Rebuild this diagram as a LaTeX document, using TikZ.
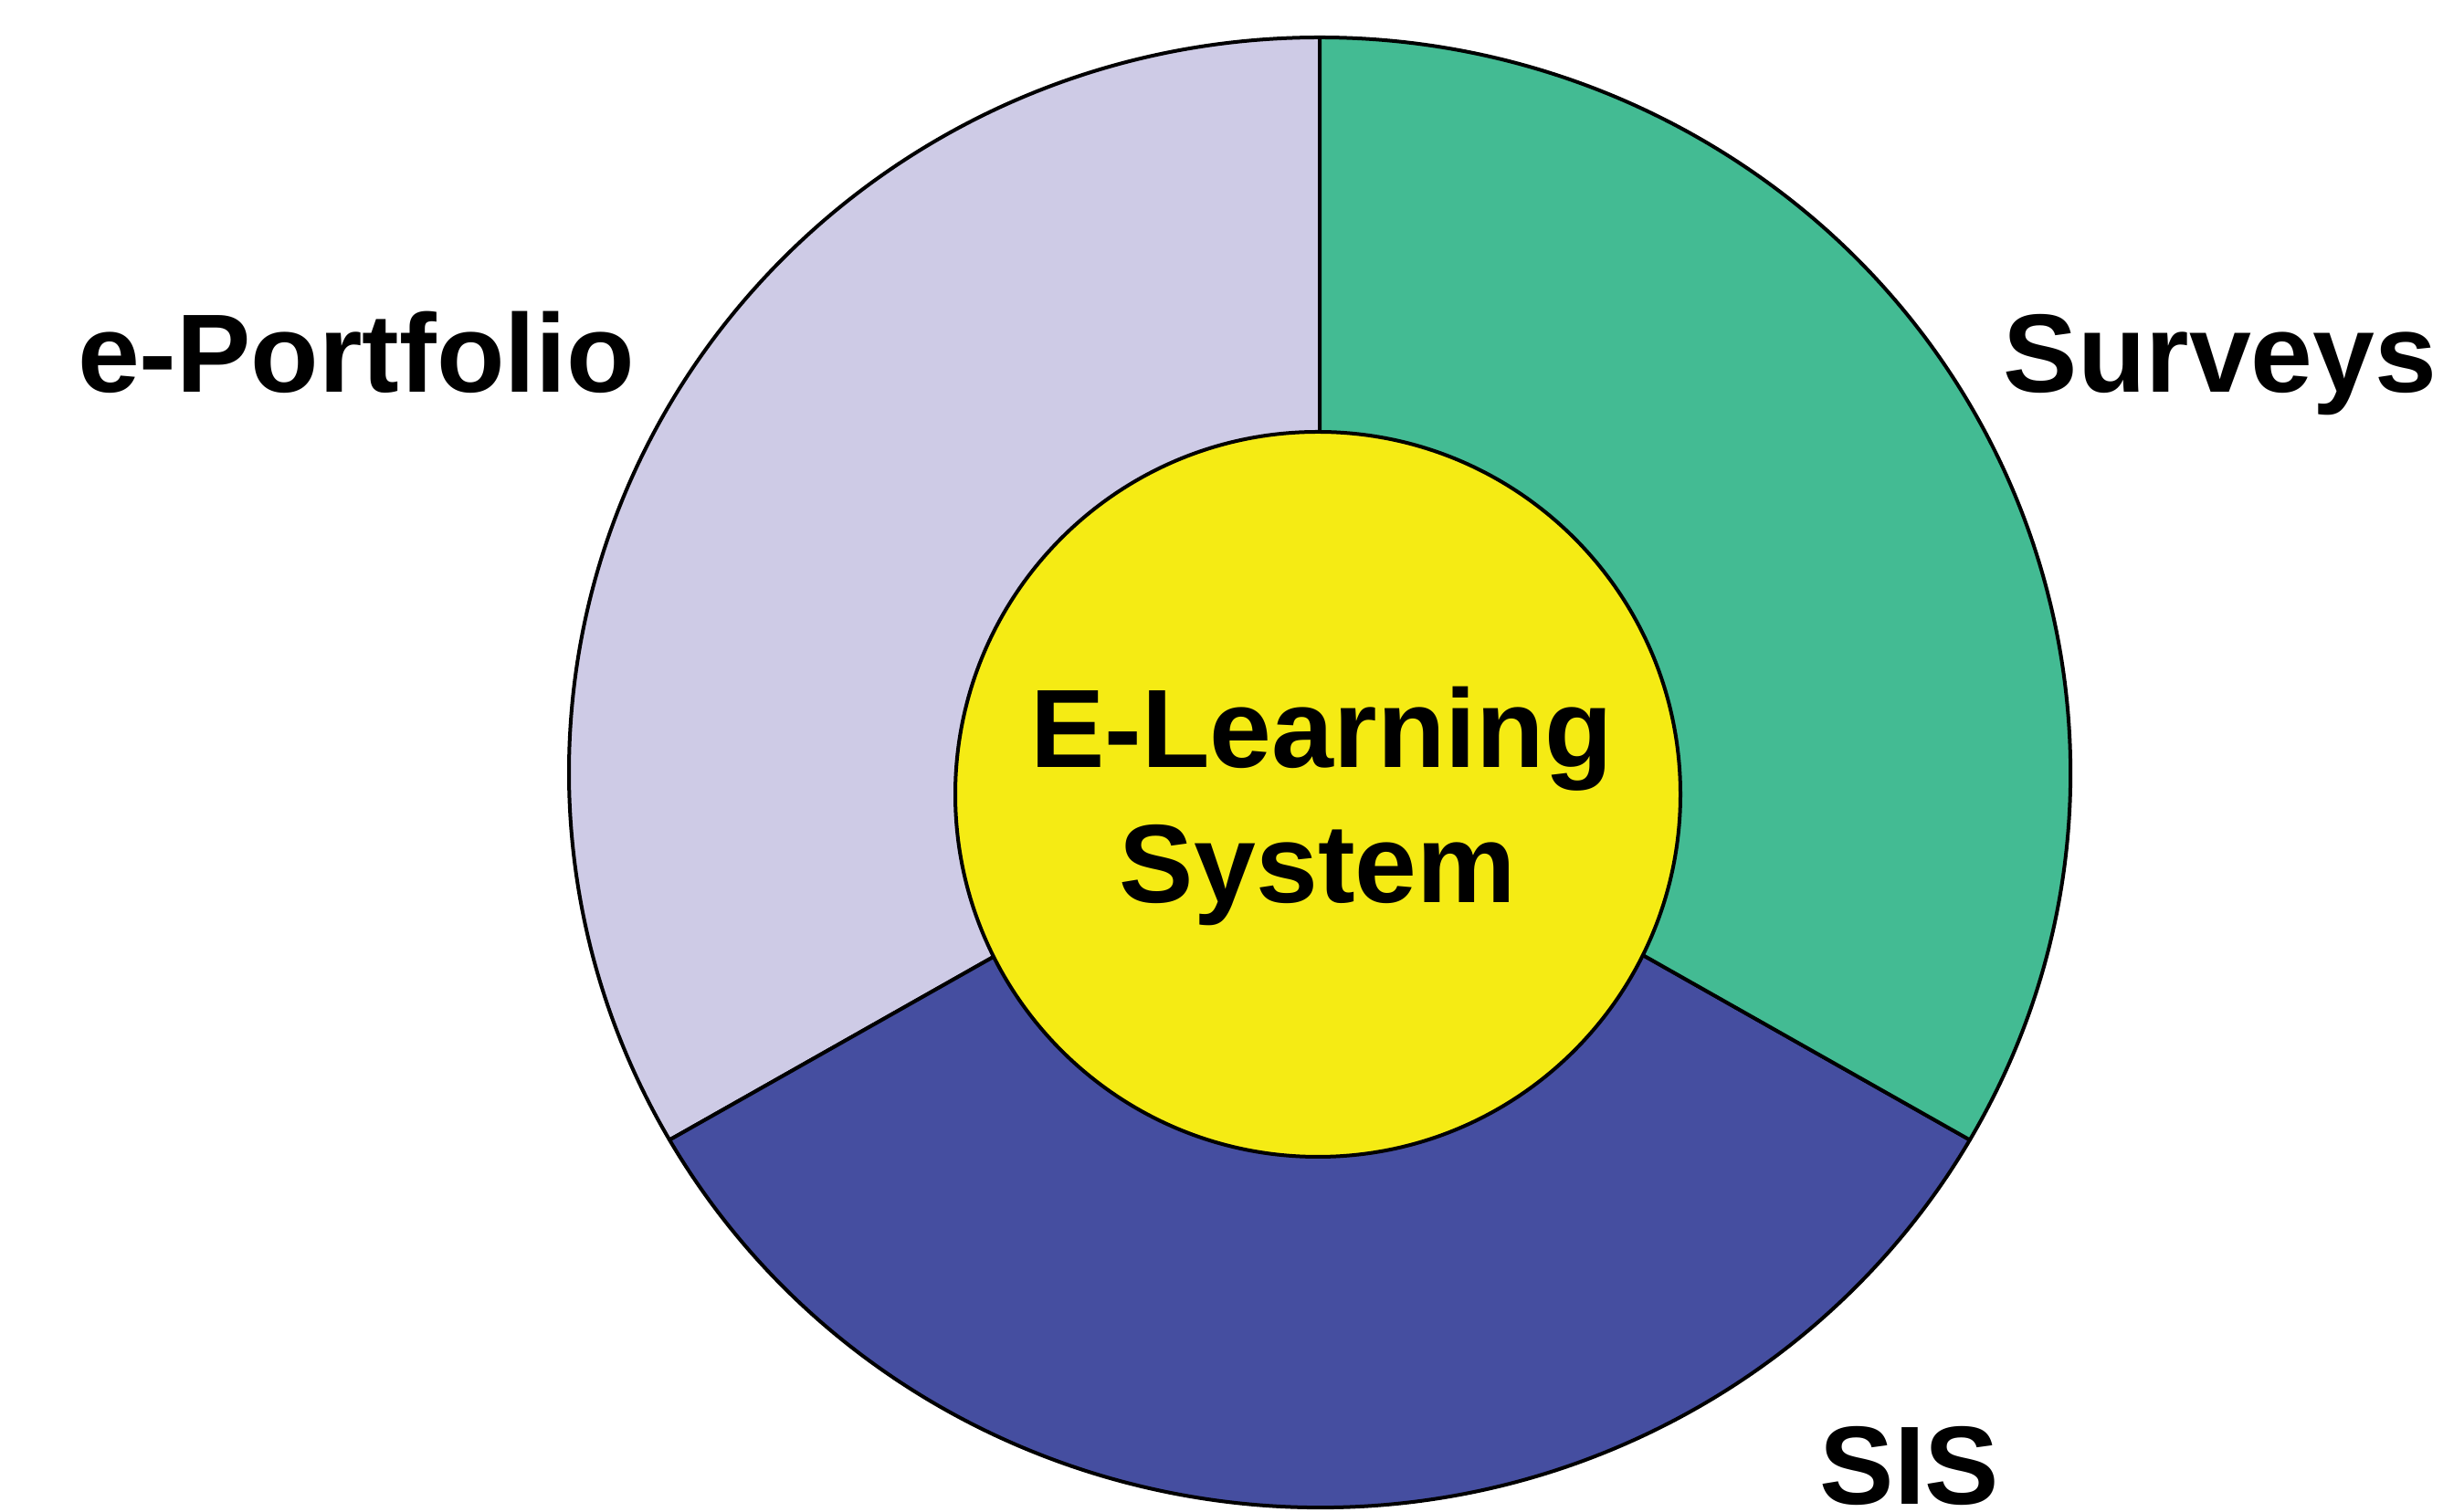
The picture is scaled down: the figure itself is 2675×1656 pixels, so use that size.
\documentclass[tikz,border=0pt]{standalone}
\usepackage{fontspec}
\setmainfont{Liberation Sans}
\definecolor{lav}{HTML}{CECBE6}
\definecolor{grn}{HTML}{43BB93}
\definecolor{blu}{HTML}{454EA0}
\definecolor{ylw}{HTML}{F5EB14}
\begin{document}
\begin{tikzpicture}[x=1pt,y=1pt,
  seg/.style={draw=black,line width=4pt,line join=round},
  lab/.style={font=\fontsize{122}{148}\selectfont\bfseries,inner sep=0pt,anchor=base}]
\useasboundingbox (0,0) rectangle (2675,1656);
\coordinate (O) at (1445,810);
\coordinate (C) at (1443,786);
% outer ring segments
\filldraw[seg,fill=lav] (O) -- ++(90:822pt and 805pt) arc[start angle=90,end angle=210,x radius=822pt,y radius=805pt] -- cycle;
\filldraw[seg,fill=blu] (O) -- ++(210:822pt and 805pt) arc[start angle=210,end angle=330,x radius=822pt,y radius=805pt] -- cycle;
\filldraw[seg,fill=grn] (O) -- ++(330:822pt and 805pt) arc[start angle=-30,end angle=90,x radius=822pt,y radius=805pt] -- cycle;
% inner circle
\node[circle,draw=black,line width=4pt,fill=ylw,minimum size=794pt,inner sep=0pt] (core) at (C) {};
\node[lab] (t1) at (1447,815) {E-Learning};
\node[lab] (t2) at (1443,667) {System};
\node[lab] (ep) at (390,1226) {e-Portfolio};
\node[lab] (sv) at (2431,1226) {Surveys};
\node[lab] (sis) at (2091,8) {SIS};
\end{tikzpicture}
\end{document}
